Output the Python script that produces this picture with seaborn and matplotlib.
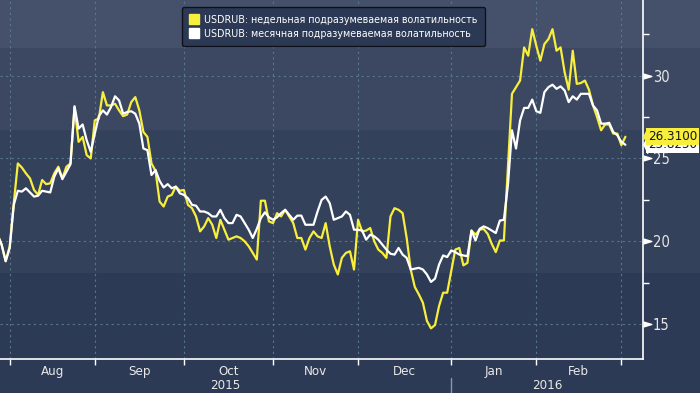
import numpy as np
import pandas as pd
import matplotlib
matplotlib.use('Agg')
import matplotlib.pyplot as plt
import seaborn as sns
from matplotlib.lines import Line2D

# business days shown on the chart (Bloomberg style axis, weekends skipped)
dates = pd.bdate_range('2015-07-29', '2016-03-02')

weekly_vol = [
    20.4, 19.8, 18.8, 19.7, 22.3, 24.7, 24.45, 24.1, 23.8, 23.1,
    22.8, 23.7, 23.45, 23.5, 24.1, 24.5, 23.8, 24.5, 24.7, 28.1,
    26.0, 26.3, 25.2, 25.0, 27.3, 27.4, 29.0, 28.2, 28.2, 28.3,
    27.9, 27.55, 27.65, 28.4, 28.7, 27.9, 26.6, 26.3, 24.7, 24.25,
    22.4, 22.1, 22.7, 22.8, 23.3, 23.05, 23.1, 22.2, 22.0, 21.5,
    20.6, 20.9, 21.4, 21.0, 20.2, 21.3, 20.7, 20.1, 20.2, 20.3,
    20.2, 20.0, 19.7, 19.3, 18.9, 22.45, 22.45, 21.2, 21.1, 21.7,
    21.5, 21.9, 21.5, 21.1, 20.2, 20.2, 19.5, 20.2, 20.6, 20.3,
    20.2, 21.1, 19.7, 18.6, 18.0, 19.0, 19.3, 19.4, 18.3, 21.3,
    20.6, 20.65, 20.8, 20.0, 19.5, 19.3, 19.0, 21.5, 22.0, 21.9,
    21.7, 20.2, 18.3, 17.25, 16.8, 16.3, 15.2, 14.75, 14.95, 16.1,
    16.9, 16.9, 18.2, 19.5, 19.6, 18.55, 18.7, 20.65, 20.4, 20.7,
    20.75, 20.45, 19.85, 19.35, 20.05, 20.05, 24.5, 28.9, 29.3, 29.7,
    31.7, 31.2, 32.8, 31.8, 30.9, 31.9, 32.2, 32.8, 31.5, 31.7,
    30.2, 29.15, 31.5, 29.5, 29.55, 29.7, 29.15, 28.2, 27.5, 26.7,
    27.05, 27.05, 26.5, 26.5, 25.8, 26.31,
]

monthly_vol = [
    20.4, 19.8, 18.8, 19.6, 22.2, 23.05, 23.0, 23.2, 22.95, 22.7,
    22.75, 23.05, 23.0, 22.95, 23.9, 24.4, 23.75, 24.2, 24.65, 28.15,
    26.8, 27.05, 26.1, 25.4, 26.5, 27.55, 27.9, 27.65, 28.1, 28.75,
    28.5, 27.7, 27.8, 27.85, 27.7, 27.1, 25.6, 25.5, 24.0, 24.3,
    23.65, 23.25, 23.45, 23.2, 23.3, 22.9, 22.8, 22.6, 22.2, 22.15,
    21.8, 21.8, 21.7, 21.5, 21.5, 21.9, 21.4, 21.1, 21.1, 21.6,
    21.5, 21.1, 20.7, 20.2, 20.75, 21.4, 21.75, 21.45, 21.3, 21.45,
    21.7, 21.9, 21.6, 21.3, 21.55, 21.55, 21.0, 21.0, 21.0, 21.8,
    22.5, 22.7, 22.3, 21.3, 21.4, 21.5, 21.8, 21.6, 20.7, 20.7,
    20.65, 20.1, 20.4, 20.3, 20.1, 19.8, 19.5, 19.25, 19.2, 19.6,
    19.2, 19.0, 18.3, 18.35, 18.4, 18.3, 18.0, 17.55, 17.75, 18.6,
    19.15, 19.05, 19.45, 19.35, 19.2, 19.15, 19.1, 20.65, 20.05, 20.75,
    20.9, 20.8, 20.65, 20.5, 21.25, 21.3, 23.4, 26.7, 25.6, 27.3,
    28.05, 28.05, 28.55, 27.85, 27.75, 29.0, 29.3, 29.45, 29.2, 29.35,
    29.1, 28.4, 28.75, 28.55, 28.9, 28.9, 28.9, 28.2, 27.9, 27.1,
    27.1, 27.15, 26.6, 26.4, 26.0, 25.825,
]

weekly_label = 'USDRUB: недельная подразумеваемая волатильность'
monthly_label = 'USDRUB: месячная подразумеваемая волатильность'
weekly_last = '26.3100'
monthly_last = '25.8250'
y_major = [15, 20, 25, 30]
y_minor = [17.5, 22.5, 27.5, 32.5]

YELLOW = '#f8ee3c'
WHITE = '#ffffff'
GRID = '#56778d'
BANDS = [(0.878, 1.0, '#45516a'), (0.669, 0.878, '#3c4862'),
         (0.305, 0.669, '#34415b'), (0.0, 0.305, '#2d3a55')]

sns.set_theme(style='dark')
plt.rcParams['font.family'] = ['DejaVu Sans']
plt.rcParams['font.stretch'] = 'condensed'

fig = plt.figure(figsize=(7, 3.93), dpi=100)

# banded background
bg = fig.add_axes([0, 0, 1, 1], zorder=-5)
for lo, hi, c in BANDS:
    bg.axhspan(lo, hi, color=c, lw=0)
bg.set_xlim(0, 1)
bg.set_ylim(0, 1)
bg.set_axis_off()

ax = fig.add_axes([0, 0.0865, 0.9186, 0.9135])
ax.patch.set_alpha(0)

df = pd.DataFrame({'pos': np.arange(len(dates)),
                   'weekly': weekly_vol,
                   'monthly': monthly_vol})
sns.lineplot(data=df, x='pos', y='weekly', color=YELLOW, lw=1.6, ax=ax)
sns.lineplot(data=df, x='pos', y='monthly', color=WHITE, lw=1.6, ax=ax)

ax.set_xlim(0.6, 159.35)
ax.set_ylim(12.9, 34.56)
ax.set_xlabel('')
ax.set_ylabel('')

# month ticks at first business day of each month
months = dates.to_period('M')
starts = [i for i in range(1, len(dates)) if months[i] != months[i - 1]]
mids = [(a + b) / 2 for a, b in zip(starts[:-1], starts[1:])]
ax.set_xticks(starts)
ax.set_xticklabels([])
ax.set_xticks(mids, minor=True)
ax.set_xticklabels([dates[s].strftime('%b') for s in starts[:-1]], minor=True)
ax.tick_params(axis='x', which='major', direction='out', length=4, width=1,
               color='white', bottom=True)
ax.tick_params(axis='x', which='minor', length=0, pad=4, labelsize=9.5,
               labelcolor='#e8e8e8')

# year labels and separator
jan = [s for s in starts if dates[s].month == 1][0]
x0, x1 = ax.get_xlim()
xt = ax.get_xaxis_transform()
ax.text((x0 + jan) / 2, -0.073, '2015', transform=xt, ha='center', va='center',
        fontsize=9.5, color='#e8e8e8')
ax.text((jan + x1) / 2, -0.073, '2016', transform=xt, ha='center', va='center',
        fontsize=9.5, color='#e8e8e8')
ax.plot([jan, jan], [-0.053, -0.1], transform=xt, color='#8a97a8', lw=1,
        clip_on=False)

# right axis
ax.yaxis.tick_right()
ax.set_yticks(y_major)
ax.set_yticks(y_minor, minor=True)
ax.tick_params(axis='y', which='major', length=0, pad=7, labelsize=10.5,
               labelcolor='#e8e8e8', right=True, left=False)
ax.tick_params(axis='y', which='minor', direction='out', length=4, width=1,
               color='white', right=True, left=False)
ax.plot(np.ones(len(y_major)), y_major, ls='none',
        marker=[(0, -0.3), (1, 0), (0, 0.3)], ms=12, color='white',
        transform=ax.get_yaxis_transform(), clip_on=False)

ax.grid(True, which='major', color=GRID, ls=(0, (2, 3)), lw=0.8)
for side in ['top', 'left']:
    ax.spines[side].set_visible(False)
for side in ['bottom', 'right']:
    ax.spines[side].set_visible(True)
    ax.spines[side].set_color('white')
    ax.spines[side].set_linewidth(1.2)

# last value tags (the weekly tag partly covers the monthly one, as in the original)
yt = ax.get_yaxis_transform()
for val, txt, col, z in [(monthly_vol[-1], monthly_last, WHITE, 6),
                         (weekly_vol[-1], weekly_last, YELLOW, 7)]:
    ax.plot([1], [val], ls='none', marker=[(0, 0), (0.5, 1), (0.5, -1)],
            ms=12, color=col, transform=yt, clip_on=False, zorder=z)
    ax.annotate(txt, xy=(1, val), xycoords=yt, xytext=(3.5, 0),
                textcoords='offset points', ha='left', va='center',
                fontsize=9.5, color='#151515', annotation_clip=False, zorder=z,
                bbox=dict(boxstyle='square,pad=0.15', fc=col, ec='none'))

handles = [Line2D([], [], ls='none', marker='s', ms=7.5, color=YELLOW),
           Line2D([], [], ls='none', marker='s', ms=7.5, color=WHITE)]
leg = fig.legend(handles, [weekly_label, monthly_label], loc='upper left',
                 bbox_to_anchor=(0.26, 0.982), frameon=True, fancybox=True,
                 facecolor='#2c3954', edgecolor='#0e1119', framealpha=1,
                 labelcolor='white', fontsize=7.7, handlelength=0.8,
                 handletextpad=0.55, borderpad=0.7, labelspacing=0.4,
                 borderaxespad=0)

fig.savefig('out.png', dpi=100)
